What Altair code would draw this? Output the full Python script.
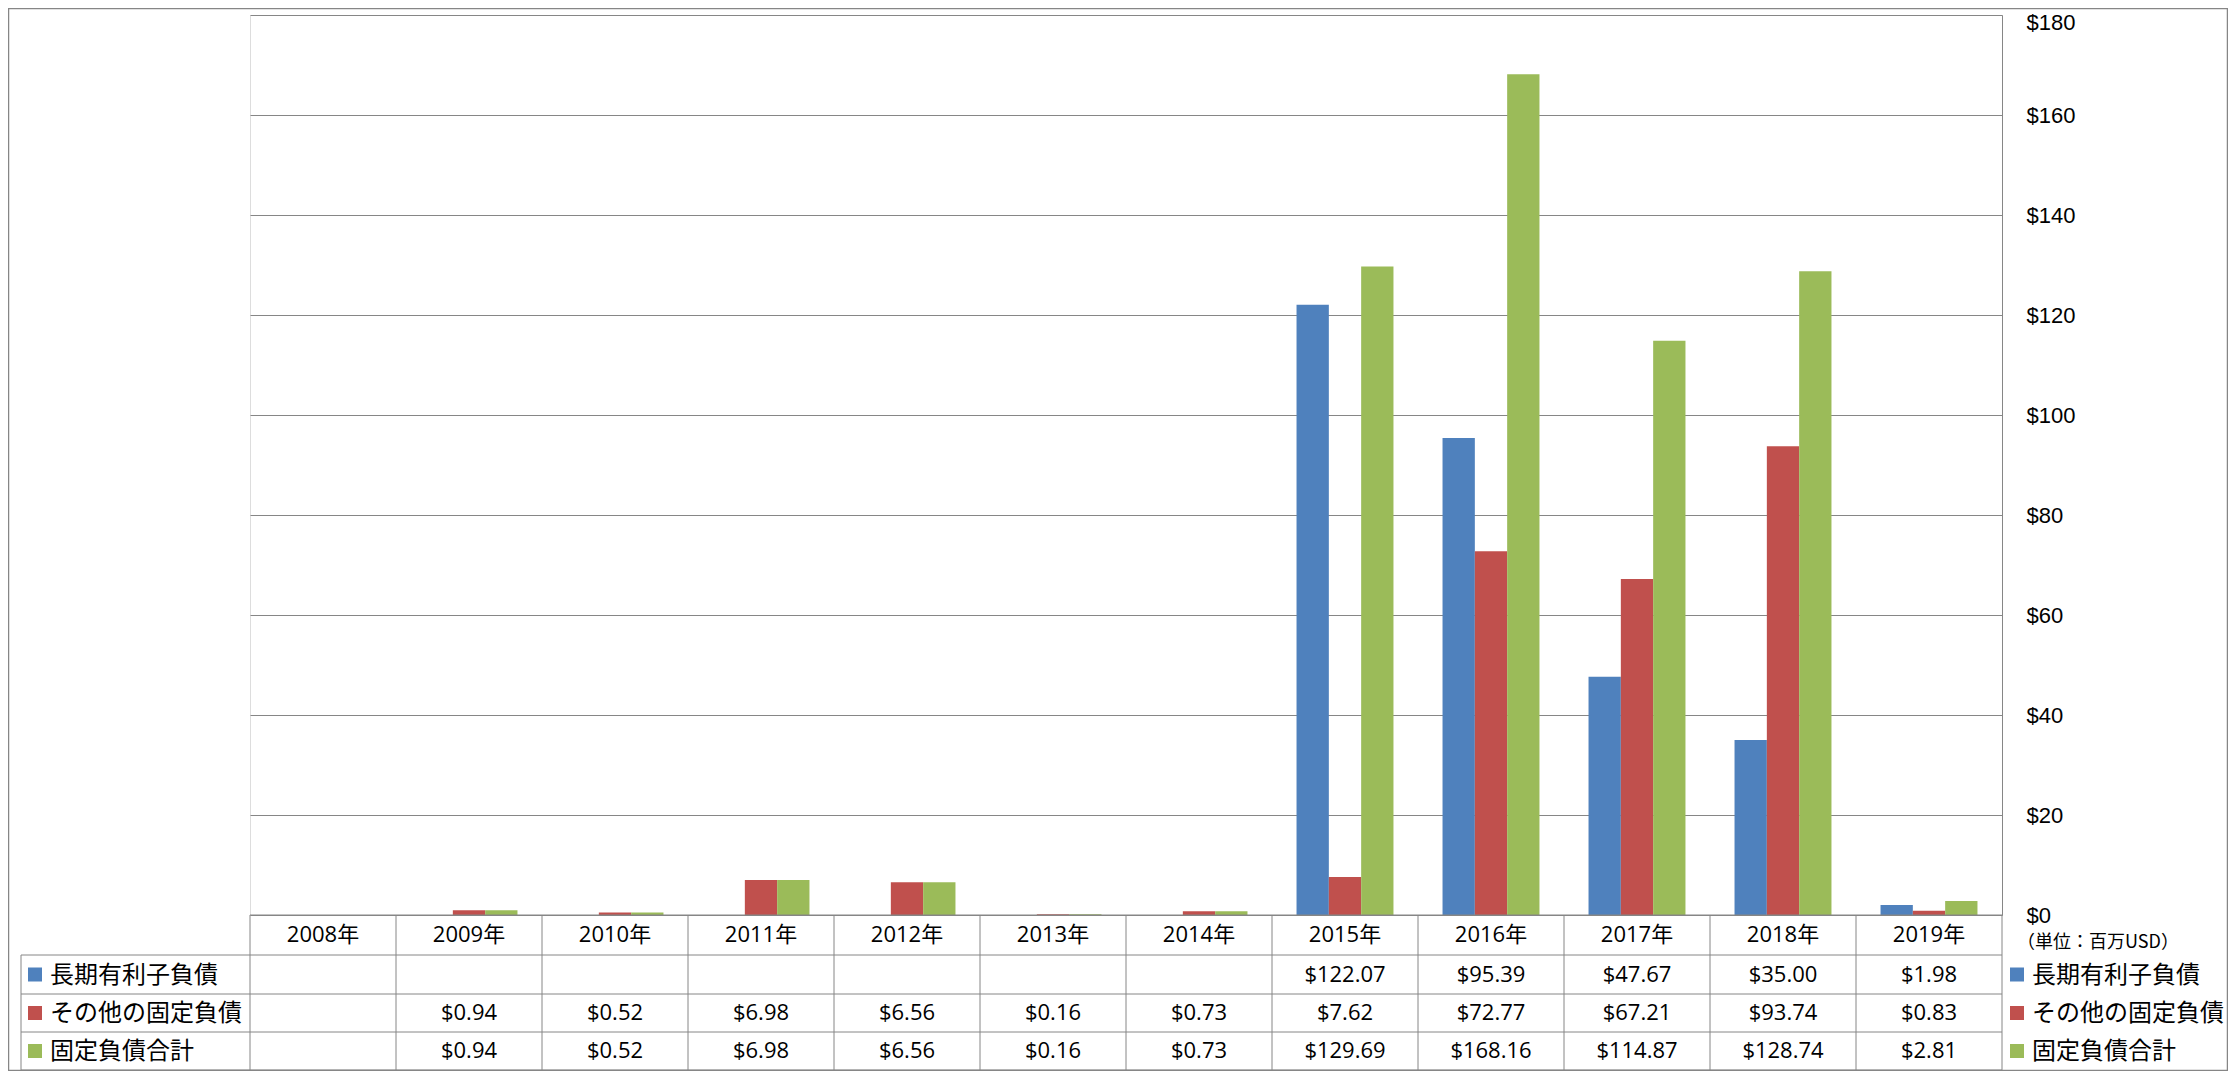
import altair as alt
import pandas as pd

# ---------------- data ----------------
years = ["2008年", "2009年", "2010年", "2011年", "2012年", "2013年",
         "2014年", "2015年", "2016年", "2017年", "2018年", "2019年"]
series = ["長期有利子負債", "その他の固定負債", "固定負債合計"]
colors = ["#4F81BD", "#C0504D", "#9BBB59"]
long_term = [None, None, None, None, None, None, None, 122.07, 95.39, 47.67, 35.00, 1.98]
other_fixed = [None, 0.94, 0.52, 6.98, 6.56, 0.16, 0.73, 7.62, 72.77, 67.21, 93.74, 0.83]
total_fixed = [None, 0.94, 0.52, 6.98, 6.56, 0.16, 0.73, 129.69, 168.16, 114.87, 128.74, 2.81]
y_ticks = [0, 20, 40, 60, 80, 100, 120, 140, 160, 180]
unit_label = "（単位：百万USD）"

values_by_series = [long_term, other_fixed, total_fixed]
rows = []
for s, vals in zip(series, values_by_series):
    for yr, v in zip(years, vals):
        rows.append({"year": yr, "series": s, "value": v})
df = pd.DataFrame(rows)
year_df = pd.DataFrame({"year": years})
series_df = pd.DataFrame({"series": series})

# ---------------- layout ----------------
W, H = 1752, 900
N = len(years)
STEP = W / N
GRAY = "#868686"
FONT = "Open Sans, Noto Sans CJK JP"
CJK = "Noto Sans CJK JP"
HEADER_Y = 920
ROW_LINES = [940, 979, 1017, 1055]
ROW_CENTERS = [959.5, 998, 1036]
LEFT_X = -229

x_enc = alt.X("year:N", sort=years,
              scale=alt.Scale(domain=years, paddingInner=0.336, paddingOuter=0.168),
              axis=None)
color_enc = alt.Color("series:N", scale=alt.Scale(domain=series, range=colors), legend=None)

bars = alt.Chart(df).mark_bar().encode(
    x=x_enc,
    xOffset=alt.XOffset("series:N", sort=series, scale=alt.Scale(domain=series)),
    y=alt.Y("value:Q", scale=alt.Scale(domain=[0, 180], nice=False, zero=True),
            axis=alt.Axis(orient="right", values=y_ticks, labelExpr="'$' + datum.value",
                          grid=True, gridColor=GRAY, gridWidth=1, domain=True,
                          domainColor=GRAY, domainWidth=1, ticks=False,
                          labelPadding=24, labelFont="Liberation Sans", labelFontSize=22,
                          labelColor="#000000", title=None,
                          labelOffset={"condition": {"test": "datum.value == 180", "value": 7},
                                       "value": 0})),
    color=color_enc,
)

# table lines (layout)
segs = []
for k in range(N + 1):
    segs.append({"x": k * STEP, "x2": k * STEP, "y": H, "y2": ROW_LINES[-1]})
segs.append({"x": LEFT_X, "x2": LEFT_X, "y": ROW_LINES[0], "y2": ROW_LINES[-1]})
segs.append({"x": 0, "x2": W, "y": H, "y2": H})
for yl in ROW_LINES:
    segs.append({"x": LEFT_X, "x2": W, "y": yl, "y2": yl})
seg_df = pd.DataFrame(segs)
table_lines = alt.Chart(seg_df).mark_rule(color=GRAY, strokeWidth=1).encode(
    x=alt.X("x:Q", scale=None, axis=None), x2="x2:Q",
    y=alt.Y("y:Q", scale=None, axis=None), y2="y2:Q",
)

border_df = pd.DataFrame([{"x": -241.5, "x2": W + 225.5, "y": -6.5, "y2": 1055.5}])
border = alt.Chart(border_df).mark_rect(fill=None, stroke=GRAY, strokeWidth=1.5).encode(
    x=alt.X("x:Q", scale=None, axis=None), x2="x2:Q",
    y=alt.Y("y:Q", scale=None, axis=None), y2="y2:Q",
)

header = alt.Chart(year_df).mark_text(font=FONT, fontSize=22, color="#000000",
                                      baseline="middle").encode(
    x=x_enc, y=alt.value(HEADER_Y), text="year:N")

layers = [border, bars, table_lines, header]

for s, cy in zip(series, ROW_CENTERS):
    vt = alt.Chart(df).transform_filter(
        alt.datum.series == s
    ).transform_filter("isValid(datum.value)").transform_calculate(
        label="'$' + format(datum.value, '.2f')"
    ).mark_text(font=FONT, fontSize=22, color="#000000", baseline="middle").encode(
        x=x_enc, y=alt.value(cy), text="label:N")
    layers.append(vt)

    one = series_df[series_df["series"] == s]
    for sq_x, tx_x in [(-215, -200), (W + 15, W + 30)]:
        sq = alt.Chart(one).mark_square(size=196, opacity=1).encode(
            x=alt.value(sq_x), y=alt.value(cy), color=color_enc)
        tx = alt.Chart(one).mark_text(font=CJK, fontSize=24, color="#000000",
                                      align="left", baseline="middle").encode(
            x=alt.value(tx_x), y=alt.value(cy + 1), text="series:N")
        layers += [sq, tx]

unit = alt.Chart(pd.DataFrame({"t": [unit_label]})).mark_text(
    font=CJK, fontSize=18, color="#000000", align="left", baseline="middle").encode(
    x=alt.value(W + 15), y=alt.value(928), text="t:N")
layers.append(unit)

chart = alt.layer(*layers).properties(
    width=W, height=H,
    autosize=alt.AutoSizeParams(type="none"),
    padding={"left": 242, "top": 7, "right": 226, "bottom": 156},
).configure_view(stroke=None).configure(background="#ffffff")

chart.save("out.html", embed_options={"renderer": "svg", "actions": False})
